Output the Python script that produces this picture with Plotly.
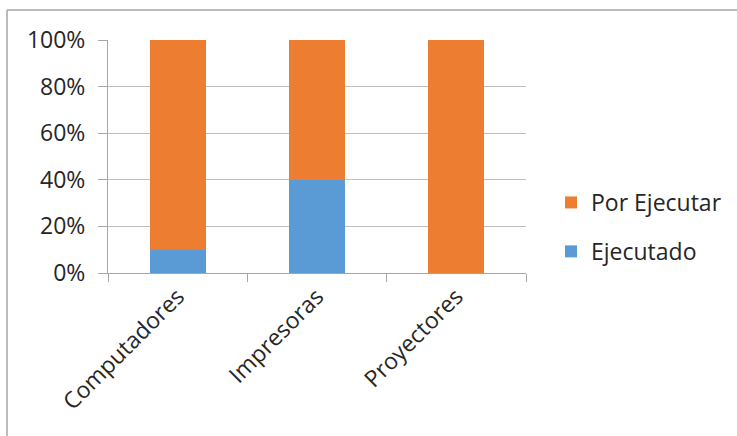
import plotly.graph_objects as go

categories = ["Computadores", "Impresoras", "Proyectores"]
ejecutado = [10, 40, 0]
por_ejecutar = [90, 60, 100]
tick_vals = [0, 20, 40, 60, 80, 100]
tick_text = ["0%", "20%", "40%", "60%", "80%", "100%"]

W, H = 737, 436
L, R, T, B = 108, 526, 40, 273
FS = 23

fig = go.Figure()
fig.add_trace(go.Bar(x=categories, y=ejecutado, name="Ejecutado",
                     marker=dict(color="#5B9BD5", line=dict(width=0)),
                     legendgroup="a", legendrank=2))
fig.add_trace(go.Bar(x=categories, y=por_ejecutar, name="Por Ejecutar",
                     marker=dict(color="#ED7D31", line=dict(width=0)),
                     legendgroup="b", legendrank=1))

pw = R - L
ph = B - T
def px(x):
    return (x - L) / pw
def py(y):
    return (B - y) / ph

fig.update_layout(
    width=W, height=H,
    barmode="stack",
    bargap=0.6,
    margin=dict(l=L, r=W - R, t=T, b=H - B, pad=0, autoexpand=False),
    paper_bgcolor="white", plot_bgcolor="white",
    font=dict(family="Open Sans, Liberation Sans, sans-serif", size=FS, color="#262626"),
    showlegend=True,
    legend=dict(x=px(551), y=py(181), xanchor="left", yanchor="top",
                traceorder="grouped", tracegroupgap=16,
                font=dict(size=FS, color="#262626"), itemwidth=30),
    xaxis=dict(showline=True, linecolor="#a6a6a6", linewidth=1,
               ticks="outside", ticklen=8, tickcolor="#a6a6a6",
               tickson="boundaries", tickangle=-45, showgrid=False,
               automargin=False, tickfont=dict(size=FS)),
    yaxis=dict(range=[0, 100], tickvals=tick_vals, ticktext=tick_text,
               showline=True, linecolor="#a6a6a6", linewidth=1,
               ticks="outside", ticklen=9, tickcolor="#a6a6a6",
               showgrid=True, gridcolor="#bfbfbf", gridwidth=1,
               zeroline=False, automargin=False, tickfont=dict(size=FS),
               ticklabelstandoff=8),
    shapes=[
        dict(type="line", xref="paper", yref="paper",
             x0=px(7), x1=px(W + 5), y0=py(10), y1=py(10),
             line=dict(color="#a6a6a6", width=1.5)),
        dict(type="line", xref="paper", yref="paper",
             x0=px(7), x1=px(7), y0=py(10), y1=py(H + 5),
             line=dict(color="#a6a6a6", width=1.5)),
    ],
)

fig.write_html("out.html", config={"displayModeBar": False},
               post_script="document.body.style.margin='0';")
